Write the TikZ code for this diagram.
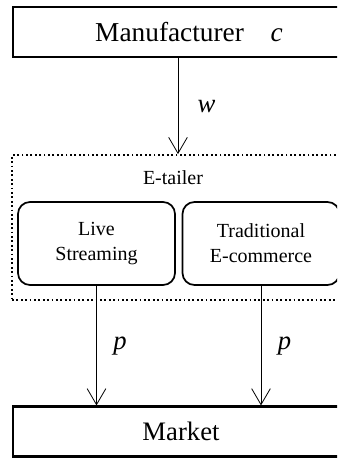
\documentclass[tikz,border=0pt]{standalone}
\usepackage{fontspec}
\setmainfont{Liberation Serif}
\usepackage{tikz}
\usetikzlibrary{arrows.meta,positioning}

\begin{document}
\begin{tikzpicture}[x=0.75pt,y=-0.75pt,
    >={Straight Barb[length=12pt,width=14pt]},
    bigbox/.style={draw, line width=1.6pt, minimum width=252pt, minimum height=37.5pt,
      font=\fontsize{20}{24}\selectfont},
    chanbox/.style={draw, line width=1.3pt, rounded corners=9pt, minimum width=117.75pt,
      minimum height=62.25pt, align=center, font=\fontsize{15}{18.75}\selectfont},
    flow/.style={->, line width=0.6pt},
    lbl/.style={font=\fontsize{20}{24}\selectfont\itshape}]
  \useasboundingbox (0,0) rectangle (337,458);
  \clip (0,0) rectangle (337,458);
  % firms
  \node[bigbox, font=\fontsize{20.5}{24}\selectfont] (manu) at (181,32)
    {\hspace*{12pt}Manufacturer\hspace{20pt}\textit{c}};
  \node[bigbox] (market) at (181,431.5) {Market};
  % retailer with its two channels
  \node[draw, dotted, line width=1.3pt, minimum width=253.5pt, minimum height=108.75pt] (etailer) at (181,227.5) {};
  \node[font=\fontsize{15}{18}\selectfont] (etlabel) at (173,178) {E-tailer};
  \node[chanbox] (live) at (96.5,243.5) {Live\\Streaming};
  \node[chanbox] (trad) at (261,243.5) {Traditional\\E-commerce};
  % wholesale and retail prices
  \draw[flow] ([xshift=-2.25pt]manu.south) -- ([xshift=-2.25pt]etailer.north)
    node[midway, right=11pt, lbl] (wlbl) {w};
  \draw[flow] (live.south) -- (live.south |- market.north)
    node[midway, right=9pt, lbl] (plive) {p};
  \draw[flow] (trad.south) -- (trad.south |- market.north)
    node[midway, right=9pt, lbl] (ptrad) {p};
\end{tikzpicture}
\end{document}
